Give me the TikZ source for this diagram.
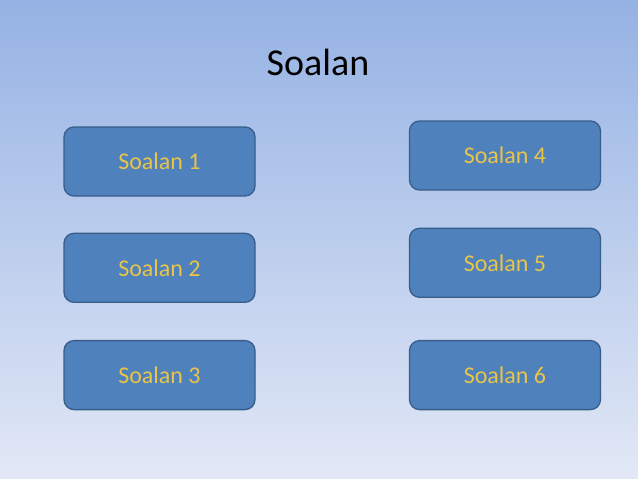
\documentclass[tikz,border=0pt]{standalone}
\usepackage{fontspec}
\setmainfont{Carlito}
\usepackage{xcolor}
\usepackage{tikz}
\usetikzlibrary{positioning}
\definecolor{bgtop}{RGB}{149,178,228}
\definecolor{bgbottom}{RGB}{226,232,246}
\definecolor{btnfill}{RGB}{79,129,189}
\definecolor{btnline}{RGB}{56,93,138}
\definecolor{btntext}{RGB}{232,196,72}
\tikzstyle{soalbtn} = [
    rectangle, rounded corners=10pt, minimum width=191pt, minimum height=69pt,
    text centered, draw=btnline, line width=1.3pt, fill=btnfill,
    text=btntext, font=\fontsize{24}{28}\selectfont
]

\begin{document}
\begin{tikzpicture}[x=1pt, y=-1pt]
        % Background
        \shade[top color=bgtop, bottom color=bgbottom] (0,0) rectangle (638,479);
        \useasboundingbox (0,0) rectangle (638,479);

        % Title
        \node[font=\fontsize{38}{44}\selectfont, text=black] (title) at (318,62) {Soalan};

        % Left column
        \node[soalbtn] (soal1) at (159.5,161.5) {Soalan 1};
        \node[soalbtn, below=36pt of soal1] (soal2) {Soalan 2};
        \node[soalbtn, below=37pt of soal2] (soal3) {Soalan 3};

        % Right column
        \node[soalbtn] (soal4) at (505,155.5) {Soalan 4};
        \node[soalbtn, below=37pt of soal4] (soal5) {Soalan 5};
        \node[soalbtn, below=42pt of soal5] (soal6) {Soalan 6};
    \end{tikzpicture}
\end{document}
